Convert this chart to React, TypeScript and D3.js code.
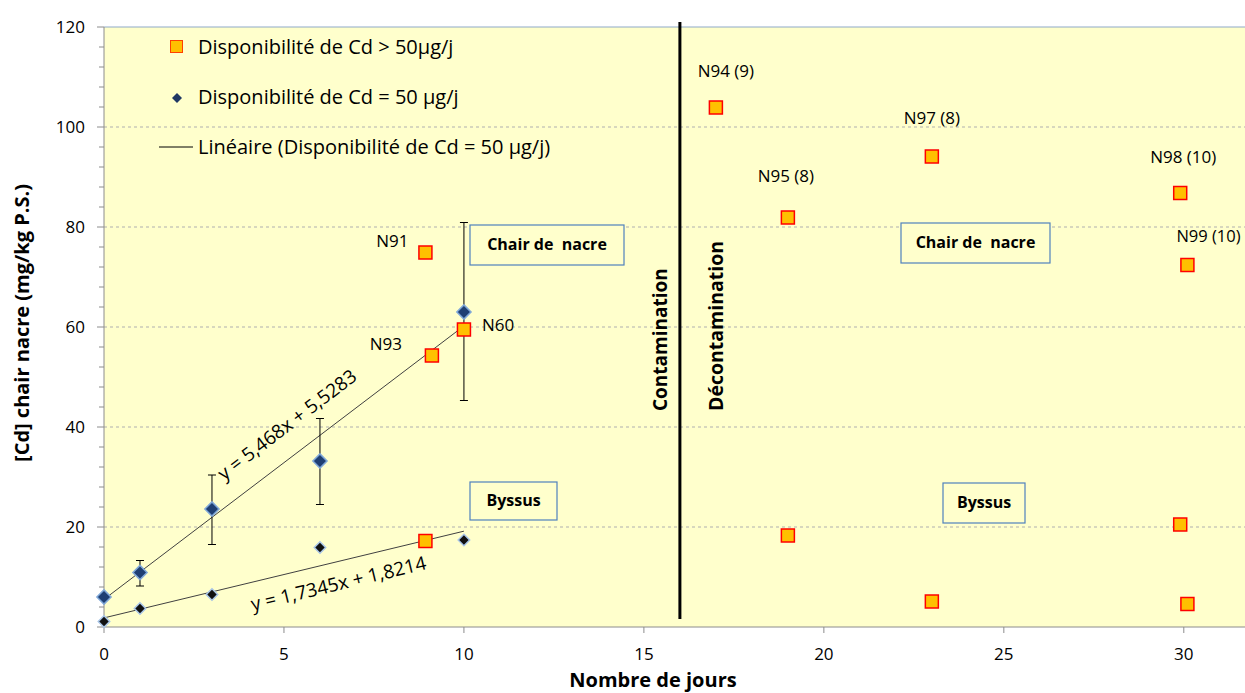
import React from 'react';
import * as d3 from 'd3';

// Cd > 50 µg/j (orange squares)
const highX = [8.93, 9.11, 10, 8.93, 17, 19, 23, 29.9, 30.1, 19, 23, 29.9, 30.1];
const highY = [74.9, 54.3, 59.5, 17.2, 103.9, 81.9, 94.1, 86.8, 72.4, 18.3, 5.1, 20.5, 4.6];
const highLabels = ['N91', 'N93', 'N60', '', 'N94 (9)', 'N95 (8)', 'N97 (8)', 'N98 (10)', 'N99 (10)', '', '', '', ''];

// Cd = 50 µg/j, chair de nacre (diamonds with error bars)
const days = [0, 1, 3, 6, 10];
const nacreY = [6, 10.9, 23.6, 33.2, 63];
const nacreLow = [6, 8.2, 16.5, 24.5, 45.3];
const nacreHigh = [6, 13.3, 30.4, 41.7, 80.9];

// Cd = 50 µg/j, byssus
const byssusY = [1.1, 3.7, 6.5, 15.9, 17.4];

// linear fits shown on the chart
const fitSlope = [5.468, 1.7345];
const fitIntercept = [5.5283, 1.8214];
const fitText = ['y = 5,468x + 5,5283', 'y = 1,7345x + 1,8214'];

const xTicks = [0, 5, 10, 15, 20, 25, 30];
const yTicks = [0, 20, 40, 60, 80, 100, 120];
const legendText = [
  'Disponibilité de Cd > 50µg/j',
  'Disponibilité de Cd = 50 µg/j',
  'Linéaire (Disponibilité de Cd = 50 µg/j)',
];

const FONT = '"Open Sans", "Noto Sans", sans-serif';

export default function App() {
  const left = 104, right = 1245, top = 27, bottom = 627;
  const x = d3.scaleLinear().domain([0, 31.7]).range([left, right]);
  const y = d3.scaleLinear().domain([0, 120]).range([bottom, top]);
  const minor = d3.range(0, 121, 4);
  const diamond = d3.symbol(d3.symbolSquare, 100)();
  const diamondSmall = d3.symbol(d3.symbolSquare, 66)();
  const legendDiamond = d3.symbol(d3.symbolSquare, 50)();
  const sq = 13;

  const fitPath = (i: number) =>
    d3.line()([[x(0), y(fitIntercept[i])], [x(10), y(fitSlope[i] * 10 + fitIntercept[i])]]);

  const angle = (i: number) => {
    const dx = x(10) - x(0);
    const dy = y(fitSlope[i] * 10) - y(0);
    return (Math.atan2(dy, dx) * 180) / Math.PI;
  };

  // label offset from the marker: dx, baseline dy, anchor
  const labelPos: Record<string, [number, number, string]> = {
    N91: [-17, -6, 'end'],
    N93: [-30, -6, 'end'],
    N60: [18, 1, 'start'],
    'N94 (9)': [10, -31, 'middle'],
    'N95 (8)': [-2, -36, 'middle'],
    'N97 (8)': [0, -33, 'middle'],
    'N98 (10)': [3, -30, 'middle'],
    'N99 (10)': [-11, -23, 'start'],
  };

  const boxes = [
    { x: 470, y: 225, w: 154, h: 40, t: 'Chair de  nacre' },
    { x: 901, y: 223, w: 149, h: 40, t: 'Chair de  nacre' },
    { x: 470, y: 482, w: 87, h: 38, t: 'Byssus' },
    { x: 943, y: 483, w: 82, h: 40, t: 'Byssus' },
  ];

  return (
    <div style={{ position: 'fixed', left: 0, top: 0 }}>
      <svg width={1245} height={693} style={{ display: 'block', background: '#fff' }} fontFamily={FONT}>
        <rect x={left} y={top} width={right - left} height={bottom - top} fill="#FFFFCC" />
        <line x1={left} x2={right} y1={top} y2={top} stroke="#8EA9C8" strokeWidth={1} />
        {yTicks.filter(t => t > 0 && t < 120).map(t => (
          <line key={t} x1={left} x2={right} y1={y(t)} y2={y(t)} stroke="#AFAFAF" strokeDasharray="3,3" />
        ))}
        {/* axes */}
        <line x1={left} x2={left} y1={top} y2={bottom} stroke="#8C8C8C" />
        <line x1={left} x2={right} y1={bottom} y2={bottom} stroke="#8C8C8C" />
        {minor.map(t => (
          <line key={t} x1={t % 20 === 0 ? left - 7 : left - 5} x2={left} y1={y(t)} y2={y(t)} stroke="#8C8C8C" />
        ))}
        {yTicks.map(t => (
          <text key={t} x={85} y={y(t) + 6} textAnchor="end" fontSize={17} fill="#000">{t}</text>
        ))}
        {xTicks.map(t => (
          <g key={t}>
            <line x1={x(t)} x2={x(t)} y1={bottom} y2={bottom + 6} stroke="#8C8C8C" />
            <text x={x(t)} y={660} textAnchor="middle" fontSize={17}>{t}</text>
          </g>
        ))}
        <text x={653} y={687} textAnchor="middle" fontSize={20} fontWeight="bold">Nombre de jours</text>
        <text transform="translate(29,323) rotate(-90)" textAnchor="middle" fontSize={20} fontWeight="bold">
          [Cd] chair nacre (mg/kg P.S.)
        </text>

        {/* phase divider */}
        <line x1={x(16)} x2={x(16)} y1={22} y2={619} stroke="#000" strokeWidth={3} />
        <text transform={`translate(667,411) rotate(-90)`} fontSize={19} fontWeight="bold">Contamination</text>
        <text transform={`translate(723,411) rotate(-90)`} fontSize={19.5} fontWeight="bold">Décontamination</text>

        {/* trend lines */}
        {[0, 1].map(i => (
          <path key={i} d={fitPath(i) || ''} stroke="#404040" strokeWidth={1} fill="none" />
        ))}
        <text transform={`translate(291,430) rotate(${angle(0)})`} textAnchor="middle" fontSize={19}>{fitText[0]}</text>
        <text transform={`translate(340,590) rotate(${angle(1)})`} textAnchor="middle" fontSize={19}>{fitText[1]}</text>

        {/* error bars */}
        {days.map((d, i) => nacreHigh[i] - nacreLow[i] > 0.5 && (
          <g key={d} stroke="#000" strokeWidth={1}>
            <line x1={x(d)} x2={x(d)} y1={y(nacreHigh[i])} y2={y(nacreLow[i])} />
            <line x1={x(d) - 4} x2={x(d) + 4} y1={y(nacreHigh[i])} y2={y(nacreHigh[i])} />
            <line x1={x(d) - 4} x2={x(d) + 4} y1={y(nacreLow[i])} y2={y(nacreLow[i])} />
          </g>
        ))}

        {/* diamonds */}
        {days.map((d, i) => (
          <path key={'n' + d} d={diamond || ''} transform={`translate(${x(d)},${y(nacreY[i])}) rotate(45)`}
            fill="#1F3F73" stroke="#7FA7D8" strokeWidth={1.5} />
        ))}
        {days.map((d, i) => (
          <path key={'b' + d} d={diamondSmall || ''} transform={`translate(${x(d)},${y(byssusY[i])}) rotate(45)`}
            fill="#111" stroke="#A9C6E8" strokeWidth={1.5} />
        ))}

        {/* squares */}
        {highX.map((v, i) => (
          <rect key={i} x={x(v) - sq / 2} y={y(highY[i]) - sq / 2} width={sq} height={sq}
            fill="#FFC000" stroke="#FF0000" strokeWidth={1.5} />
        ))}
        {highX.map((v, i) => {
          const lab = highLabels[i];
          if (!lab) return null;
          const [dx, dy, anchor] = labelPos[lab];
          return (
            <text key={'l' + i} x={x(v) + dx} y={y(highY[i]) + dy} textAnchor={anchor as any}
              fontSize={lab === 'N99 (10)' ? 16.5 : 17}>{lab}</text>
          );
        })}

        {/* text boxes */}
        {boxes.map((b, i) => (
          <g key={i}>
            <rect x={b.x} y={b.y} width={b.w} height={b.h} fill="#FFFFCC" stroke="#4F81BD" strokeWidth={1.2} />
            <text x={b.x + b.w / 2} y={b.y + b.h / 2 + 5} textAnchor="middle" fontSize={16} fontWeight="bold"
              style={{ whiteSpace: 'pre' }}>{b.t}</text>
          </g>
        ))}

        {/* legend */}
        <rect x={170.5} y={40.5} width={12} height={12} fill="#FFC000" stroke="#FF4000" strokeWidth={1} />
        <text x={198} y={54} fontSize={20}>{legendText[0]}</text>
        <path d={legendDiamond || ''} transform="translate(177,98) rotate(45)" fill="#1F3864" />
        <text x={198} y={104} fontSize={20}>{legendText[1]}</text>
        <line x1={159} x2={193} y1={147} y2={147} stroke="#000" />
        <text x={198} y={154} fontSize={20}>{legendText[2]}</text>
      </svg>
    </div>
  );
}
